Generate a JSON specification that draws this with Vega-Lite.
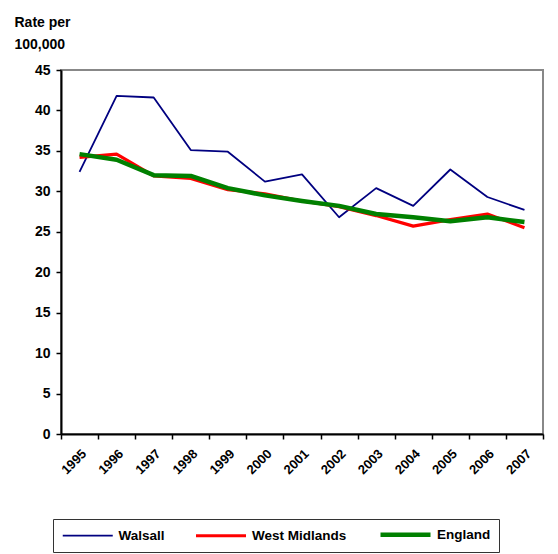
{
  "$schema": "https://vega.github.io/schema/vega-lite/v6.json",
  "autosize": "none",
  "width": 482,
  "height": 364,
  "padding": {"left": 61, "top": 70, "right": 15, "bottom": 120},
  "background": "white",
  "config": {
    "view": {"stroke": "#888888", "strokeWidth": 2},
    "font": "Liberation Sans",
    "axis": {"grid": false, "domainColor": "#000000", "domainWidth": 2, "tickColor": "#000000", "tickWidth": 1.5, "labelFontWeight": "bold", "labelColor": "#000000", "labelFont": "Liberation Sans"},
    "legend": {
      "orient": "none", "legendX": -8, "legendY": 449, "direction": "horizontal",
      "strokeColor": "#333333", "fillColor": "white", "padding": 8,
      "symbolType": "M-1,0H9", "symbolSize": 100, "labelFontSize": 13.5, "labelFontWeight": "bold", "labelColor": "#000000",
      "labelOffset": 44, "columnPadding": 24, "labelLimit": 200
    }
  },
  "data": {"values": [
    {"period": "1995", "series": "Walsall", "rate": 32.4},
    {"period": "1996", "series": "Walsall", "rate": 41.8},
    {"period": "1997", "series": "Walsall", "rate": 41.6},
    {"period": "1998", "series": "Walsall", "rate": 35.1},
    {"period": "1999", "series": "Walsall", "rate": 34.9},
    {"period": "2000", "series": "Walsall", "rate": 31.2},
    {"period": "2001", "series": "Walsall", "rate": 32.1},
    {"period": "2002", "series": "Walsall", "rate": 26.8},
    {"period": "2003", "series": "Walsall", "rate": 30.4},
    {"period": "2004", "series": "Walsall", "rate": 28.2},
    {"period": "2005", "series": "Walsall", "rate": 32.7},
    {"period": "2006", "series": "Walsall", "rate": 29.3},
    {"period": "2007", "series": "Walsall", "rate": 27.7},
    {"period": "1995", "series": "West Midlands", "rate": 34.2},
    {"period": "1996", "series": "West Midlands", "rate": 34.6},
    {"period": "1997", "series": "West Midlands", "rate": 31.9},
    {"period": "1998", "series": "West Midlands", "rate": 31.6},
    {"period": "1999", "series": "West Midlands", "rate": 30.2},
    {"period": "2000", "series": "West Midlands", "rate": 29.7},
    {"period": "2001", "series": "West Midlands", "rate": 28.8},
    {"period": "2002", "series": "West Midlands", "rate": 28.1},
    {"period": "2003", "series": "West Midlands", "rate": 27.0},
    {"period": "2004", "series": "West Midlands", "rate": 25.7},
    {"period": "2005", "series": "West Midlands", "rate": 26.5},
    {"period": "2006", "series": "West Midlands", "rate": 27.2},
    {"period": "2007", "series": "West Midlands", "rate": 25.5},
    {"period": "1995", "series": "England", "rate": 34.6},
    {"period": "1996", "series": "England", "rate": 33.9},
    {"period": "1997", "series": "England", "rate": 32.0},
    {"period": "1998", "series": "England", "rate": 31.9},
    {"period": "1999", "series": "England", "rate": 30.4},
    {"period": "2000", "series": "England", "rate": 29.5},
    {"period": "2001", "series": "England", "rate": 28.8},
    {"period": "2002", "series": "England", "rate": 28.2},
    {"period": "2003", "series": "England", "rate": 27.2},
    {"period": "2004", "series": "England", "rate": 26.8},
    {"period": "2005", "series": "England", "rate": 26.3},
    {"period": "2006", "series": "England", "rate": 26.8},
    {"period": "2007", "series": "England", "rate": 26.2}
  ]},
  "mark": {"type": "line", "strokeJoin": "round"},
  "encoding": {
    "x": {
      "field": "period", "type": "ordinal", "bandPosition": 0.5,
      "scale": {"type": "band", "paddingInner": 0, "paddingOuter": 0},
      "axis": {"title": null, "labelAngle": -45, "labelFontSize": 13, "tickBand": "extent", "tickSize": 5, "labelPadding": 8}
    },
    "y": {
      "field": "rate", "type": "quantitative",
      "scale": {"domain": [0, 45], "nice": false, "zero": true},
      "axis": {
        "values": [0, 5, 10, 15, 20, 25, 30, 35, 40, 45],
        "labelFontSize": 14, "tickSize": 5, "labelPadding": 6,
        "title": ["Rate per", "100,000"], "titleAngle": 0, "titleAlign": "left", "titleBaseline": "top",
        "titleX": -47, "titleY": -55, "titleFontSize": 14, "titleFontWeight": "bold", "titleLineHeight": 22, "titleColor": "#000000"
      }
    },
    "stroke": {
      "field": "series", "type": "nominal",
      "scale": {"domain": ["Walsall", "West Midlands", "England"], "range": ["#000080", "#ff0000", "#008000"]},
      "legend": {"title": null}
    },
    "strokeWidth": {
      "field": "series", "type": "nominal",
      "scale": {"domain": ["Walsall", "West Midlands", "England"], "range": [1.8, 4.5, 4.5]},
      "legend": {"title": null}
    },
    "order": {"field": "period"}
  }
}
